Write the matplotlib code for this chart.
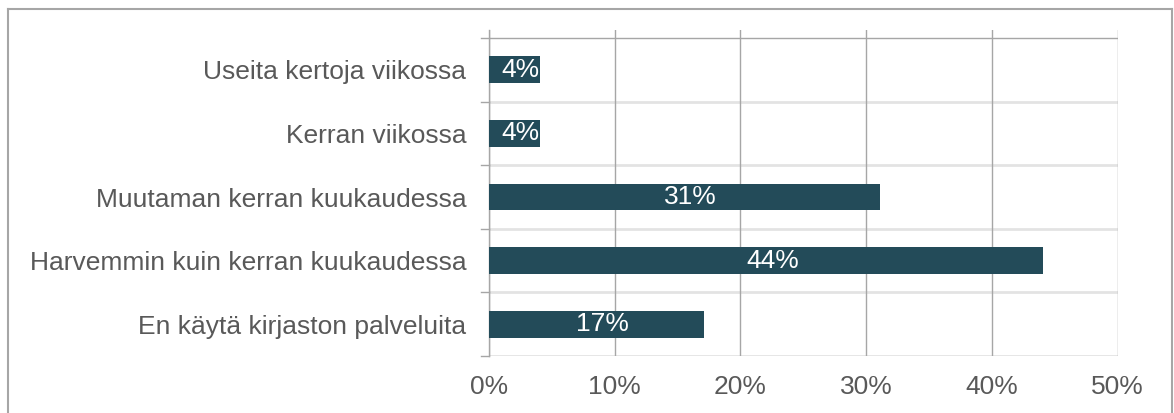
import matplotlib.pyplot as plt
from matplotlib.lines import Line2D
from matplotlib.ticker import FuncFormatter

plt.rcParams['font.family'] = ['Liberation Sans', 'DejaVu Sans']

categories = ["Useita kertoja viikossa", "Kerran viikossa", "Muutaman kerran kuukaudessa",
              "Harvemmin kuin kerran kuukaudessa", "En käytä kirjaston palveluita"]
values = [4.1, 4.1, 31.1, 44.1, 17.1]
labels = ["4%", "4%", "31%", "44%", "17%"]
xticks = [0, 10, 20, 30, 40, 50]

bar_color = "#234B59"
text_gray = "#595959"
grid_gray = "#A6A6A6"
light_gray = "#E3E3E3"
fs = 19

W, H = 1174, 413
fig = plt.figure(figsize=(W / 100, H / 100), dpi=100)
ax = fig.add_axes([488.7 / W, 1 - 356 / H, (1117.7 - 488.7) / W, (356 - 30) / H])

pos = list(range(len(categories)))
bars = ax.barh(pos, values, height=0.42, color=bar_color, zorder=3)

# labels inside the bars, clipped to the bar like in the original
for b, lab in zip(bars, labels):
    t = ax.text(b.get_width() / 2 + 0.5, b.get_y() + b.get_height() / 2, lab,
                ha="center", va="center", color="white", fontsize=fs, zorder=4)
    t.set_clip_path(b)

ax.set_xlim(0, 50)
ax.set_ylim(4.5, -0.626)

# category separators + small ticks on the left
for k, yb in enumerate([-0.5, 0.5, 1.5, 2.5, 3.5, 4.5]):
    if k == 0:
        ax.axhline(yb, color=grid_gray, lw=1.0, zorder=1)
    else:
        ax.axhline(yb, color=light_gray, lw=2.0, zorder=1)
    ax.plot([-8 / 629, 0], [yb, yb], color=grid_gray, lw=1.0, clip_on=False,
            transform=ax.get_yaxis_transform(), zorder=2)

ax.set_xticks(xticks)
ax.xaxis.set_major_formatter(FuncFormatter(lambda v, p: "%d%%" % v))
ax.grid(axis="x", color=grid_gray, lw=1.0, zorder=1)
ax.set_yticks(pos)
ax.set_yticklabels(categories)
ax.tick_params(axis="y", length=0, pad=16, labelsize=fs, labelcolor=text_gray)
ax.tick_params(axis="x", length=0, pad=14, labelsize=fs, labelcolor=text_gray)

for s in ["top", "right", "bottom"]:
    ax.spines[s].set_visible(False)
ax.spines["left"].set_color(grid_gray)
ax.spines["left"].set_linewidth(1.0)

# outer chart border
bc = "#A6A6A6"
fig.add_artist(Line2D([8 / W, 8 / W], [-0.1, 1 - 8.5 / H], color=bc, lw=1.5))
fig.add_artist(Line2D([8 / W, 1172 / W], [1 - 8.5 / H, 1 - 8.5 / H], color=bc, lw=1.5))
fig.add_artist(Line2D([1172 / W, 1172 / W], [-0.1, 1 - 8.5 / H], color=bc, lw=1.5))

fig.savefig("out.png", dpi=100)
